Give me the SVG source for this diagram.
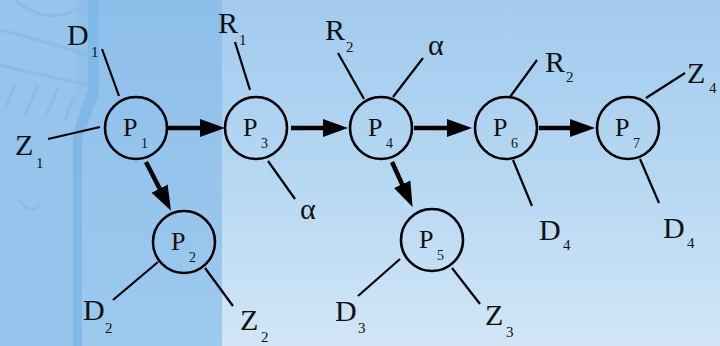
<svg xmlns="http://www.w3.org/2000/svg" width="720" height="346" viewBox="0 0 720 346">
<defs>
<linearGradient id="bgv" x1="0" y1="0" x2="0" y2="1">
<stop offset="0" stop-color="#a2cbee"/>
<stop offset="0.5" stop-color="#b5d7f2"/>
<stop offset="1" stop-color="#d2e6f7"/>
</linearGradient>
<linearGradient id="band" x1="0" y1="0" x2="0" y2="1">
<stop offset="0" stop-color="#8ebfea"/>
<stop offset="1" stop-color="#9dc9ee"/>
</linearGradient>
<marker id="ah" markerUnits="userSpaceOnUse" markerWidth="26" markerHeight="20" refX="14" refY="10" orient="auto">
<path d="M0,1 L25,10 L0,19 z" fill="#000"/>
</marker>
</defs>
<style>
.node circle{fill:none;stroke:#000;stroke-width:2.6}
.lbl{font-size:30px}
.sub{font-size:15px}
.nl{font-size:26px}
.ns{font-size:14px}
.edge{stroke:#000;stroke-width:2.2;fill:none}
.arrow{stroke:#000;stroke-width:4.5;fill:none;marker-end:url(#ah)}
</style>
<g id="background">
<rect width="720" height="346" fill="url(#bgv)"/>
<rect x="0" y="0" width="222" height="346" fill="url(#band)"/>
<rect x="0" y="0" width="76" height="346" fill="#95c4ec"/>
<path d="M88,0 L99,0 L99,95 Q90,115 82,140 L82,346 L73,346 L73,135 Q80,110 88,90 Z" fill="#7cb5e6" opacity="0.8"/>
<g fill="none" stroke="#86b8e3" stroke-width="3" opacity="0.6">
<path d="M15,0 Q45,25 75,10"/>
<path d="M0,30 Q40,40 88,55"/>
<path d="M0,65 Q40,75 88,85"/>
<path d="M5,110 L15,85 M25,115 L38,85 M45,118 L58,88 M65,120 L75,95"/>
<path d="M20,200 Q28,215 40,205"/>
</g>
</g>
<g id="connectors">
<line class="edge" x1="102" y1="49" x2="119" y2="96"/>
<line class="edge" x1="48" y1="139" x2="100" y2="127"/>
<line class="edge" x1="113" y1="300" x2="158" y2="262"/>
<line class="edge" x1="205" y1="268" x2="233" y2="306"/>
<line class="edge" x1="235" y1="42" x2="250" y2="90"/>
<line class="edge" x1="268" y1="161" x2="295" y2="199"/>
<line class="edge" x1="338" y1="53" x2="364" y2="99"/>
<line class="edge" x1="423" y1="58" x2="393" y2="97"/>
<line class="edge" x1="358" y1="296" x2="400" y2="259"/>
<line class="edge" x1="452" y1="268" x2="480" y2="304"/>
<line class="edge" x1="537" y1="60" x2="510" y2="97"/>
<line class="edge" x1="513" y1="160" x2="532" y2="206"/>
<line class="edge" x1="685" y1="73" x2="646" y2="98"/>
<line class="edge" x1="640" y1="159" x2="659" y2="203"/>
<line class="arrow" x1="168" y1="128" x2="214" y2="128"/>
<line class="arrow" x1="291" y1="128" x2="337" y2="128"/>
<line class="arrow" x1="414" y1="128" x2="461" y2="128"/>
<line class="arrow" x1="539" y1="128" x2="584" y2="128"/>
<line class="arrow" x1="146" y1="162" x2="166" y2="201"/>
<line class="arrow" x1="392" y1="162" x2="408" y2="197"/>
</g>
<g font-family="Liberation Serif, Tinos, Times, DejaVu Serif, Noto Serif, FreeSerif, serif" fill="#111">
<g id="P1" class="node"><circle cx="136" cy="128" r="31"/><text class="nl" x="123" y="136">P</text><text class="ns" x="141" y="148">1</text></g>
<g id="P2" class="node"><circle cx="184" cy="242" r="31"/><text class="nl" x="171" y="250">P</text><text class="ns" x="189" y="262">2</text></g>
<g id="P3" class="node"><circle cx="256" cy="128" r="31"/><text class="nl" x="243" y="136">P</text><text class="ns" x="261" y="148">3</text></g>
<g id="P4" class="node"><circle cx="381" cy="128" r="31"/><text class="nl" x="368" y="136">P</text><text class="ns" x="386" y="148">4</text></g>
<g id="P5" class="node"><circle cx="432" cy="240" r="31"/><text class="nl" x="419" y="248">P</text><text class="ns" x="437" y="260">5</text></g>
<g id="P6" class="node"><circle cx="506" cy="128" r="31"/><text class="nl" x="493" y="136">P</text><text class="ns" x="511" y="148">6</text></g>
<g id="P7" class="node"><circle cx="628" cy="128" r="31"/><text class="nl" x="615" y="136">P</text><text class="ns" x="633" y="148">7</text></g>
<g id="labels">
<text class="lbl" x="67" y="45">D</text><text class="sub" x="91" y="57">1</text>
<text class="lbl" x="15" y="155">Z</text><text class="sub" x="36" y="168">1</text>
<text class="lbl" x="83" y="320">D</text><text class="sub" x="105" y="333">2</text>
<text class="lbl" x="240" y="330">Z</text><text class="sub" x="261" y="342">2</text>
<text class="lbl" x="218" y="33">R</text><text class="sub" x="239" y="45">1</text>
<text class="lbl" x="300" y="219">α</text>
<text class="lbl" x="325" y="40">R</text><text class="sub" x="346" y="52">2</text>
<text class="lbl" x="428" y="55">α</text>
<text class="lbl" x="335" y="321">D</text><text class="sub" x="358" y="333">3</text>
<text class="lbl" x="485" y="325">Z</text><text class="sub" x="506" y="337">3</text>
<text class="lbl" x="545" y="72">R</text><text class="sub" x="566" y="82">2</text>
<text class="lbl" x="539" y="240">D</text><text class="sub" x="563" y="250">4</text>
<text class="lbl" x="687" y="83">Z</text><text class="sub" x="709" y="93">4</text>
<text class="lbl" x="663" y="238">D</text><text class="sub" x="687" y="248">4</text>
</g>
</g>
</svg>
